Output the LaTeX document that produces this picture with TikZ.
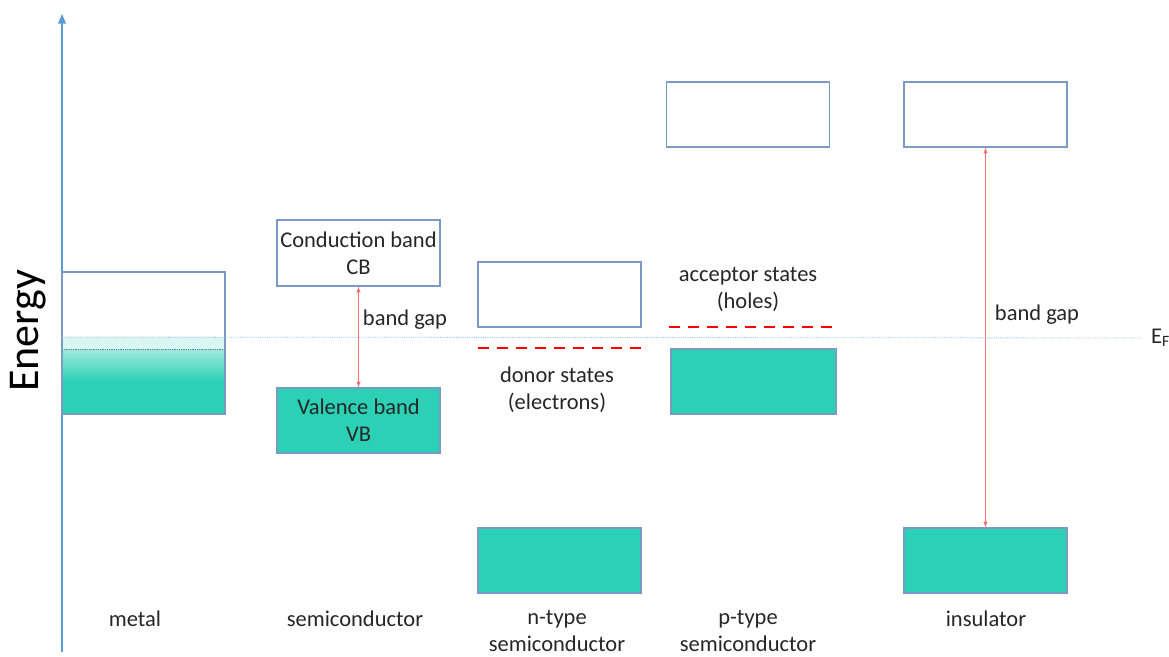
\documentclass[tikz,border=0pt]{standalone}
\usepackage{fontspec}
\setmainfont{Carlito}
\usepackage{tikz}
\usetikzlibrary{shapes.geometric, arrows}
\definecolor{boxline}{RGB}{124,155,196}
\definecolor{bandteal}{RGB}{43,208,181}
\definecolor{axisblue}{RGB}{91,155,213}
\definecolor{fermiblue}{RGB}{155,194,230}
\definecolor{gapred}{RGB}{255,110,110}
\tikzstyle{arrow} = [thick,->,>=stealth]
\tikzstyle{band} = [draw=boxline, line width=1.2pt, minimum width=163pt, minimum height=65pt, inner sep=0pt, align=center]
\tikzstyle{filled band} = [band, fill=bandteal]
\tikzstyle{gap arrow} = [draw=gapred, line width=1pt, <->, >=latex]
\tikzstyle{states} = [red, line width=2.4pt, dash pattern=on 11pt off 8pt]
\tikzstyle{lbl} = [align=center, text=black!85, font=\fontsize{22.5}{27}\selectfont]

\begin{document}
\begin{tikzpicture}[x=1pt, y=-1pt]
\useasboundingbox (0,0) rectangle (1169,656);
\coordinate (axis bottom) at (62,652);
\coordinate (axis top) at (62,14);
\draw [arrow, axisblue, line width=1.2pt, >=triangle 45] (axis bottom) -- (axis top);
\node (energy) [rotate=90, text=black] at (28,331) {\fontsize{44}{50}\selectfont Energy};

% metal: partly filled band
\fill [bandteal!18] (62,337) rectangle (225,349);
\shade [top color=bandteal!45, bottom color=bandteal] (62,349) rectangle (225,382);
\fill [bandteal] (62,382) rectangle (225,414);
\draw [boxline!80!black, densely dotted, line width=0.8pt] (62,349) -- (225,349);
\node (metal band) [band, minimum height=142pt] at (143.5,343) {};

% semiconductor
\node (semi CB) [band, minimum height=66pt, lbl] at (358.5,253) {Conduction band\\CB};
\node (semi VB) [filled band, lbl] at (358.5,420.5) {Valence band\\VB};
\draw [gap arrow] (semi CB.south) -- (semi VB.north);
\node (semi gap) [lbl] at (405,320) {band gap};

% n-type
\node (n CB) [band] at (559.5,294.5) {};
\node (n VB) [filled band] at (559.5,560.5) {};
\draw [states] (478,348) -- (641,348);
\node (donor) [lbl] at (557,390) {donor states\\(electrons)};

% p-type
\node (p CB) [band] at (748,114.5) {};
\node (p VB) [filled band, minimum width=165pt] at (753.5,381.5) {};
\draw [states] (669,327) -- (832,327);
\node (acceptor) [lbl] at (748,289) {acceptor states\\(holes)};

% insulator
\node (ins CB) [band] at (985.5,114.5) {};
\node (ins VB) [filled band] at (985.5,560.5) {};
\draw [gap arrow] (ins CB.south) -- (ins VB.north);
\node (ins gap) [lbl] at (1037,315) {band gap};

% Fermi level
\coordinate (EF left) at (62,337);
\node (EF label) [lbl, anchor=west, inner sep=0pt] at (1151,338) {E\textsubscript{F}};
\draw [fermiblue, densely dotted, line width=0.8pt] (EF left) -- ([xshift=-10pt]EF label.west);

% captions
\node (metal) [lbl] at (135,619) {metal};
\node (semiconductor) [lbl] at (355,619) {semiconductor};
\node (n-type) [lbl] at (557,631) {n-type\\semiconductor};
\node (p-type) [lbl] at (748,631) {p-type\\semiconductor};
\node (insulator) [lbl] at (986,619) {insulator};

\end{tikzpicture}
\end{document}
